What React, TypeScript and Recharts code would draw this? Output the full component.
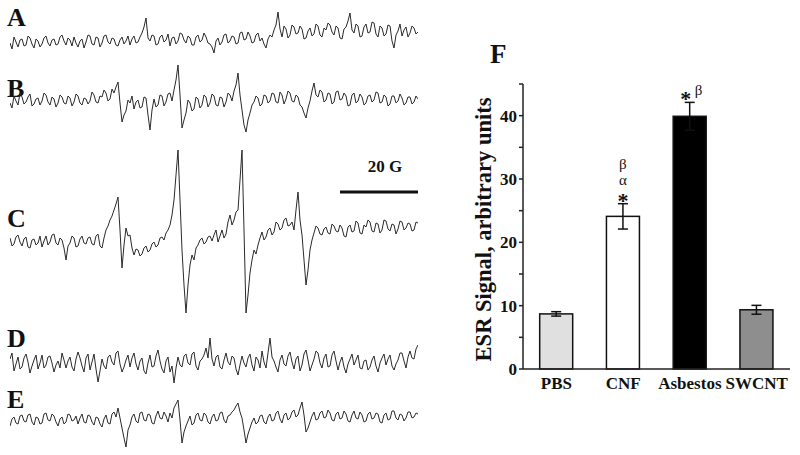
import React from 'react';
import { LineChart, Line, XAxis, YAxis, BarChart, Bar, Label } from 'recharts';

// ESR spectra (relative amplitude, sampled evenly across the field sweep)
const traceA = [
  -8, -14, -2, -7, -12, -5, -4, -11, -10, -1, -3, -9, -13, -4, -6, -12, -9, -3, -1, -8,
  -11, -5, -4, -10, -9, -2, 0, -6, -10, -3, -5, -11, -2, -8, -12, -6, -4, -13, -7, 0,
  -1, -9, -10, -2, -3, -12, -8, -1, 0, -7, -9, -3, -4, -10, -11, -5, -2, -9, -6, -1,
  -10, -4, -1, -8, -7, -2, 2, 8, 17, -3, -6, 0, -1, -10, -9, -2, 0, -7, -5, 1,
  -11, -3, -2, -9, -6, 2, 1, -5, -8, -1, -3, -10, -10, -2, 0, -7, -5, 2, -2, -8,
  -9, -12, -18, -6, -3, -10, -7, 0, 1, -8, -6, -1, -2, -9, -8, 2, 3, -5, -4, 3,
  -1, -8, -7, 0, 2, -6, -3, -9, -13, -4, 0, -2, 5, 10, 23, 6, -2, 9, 6, -3,
  0, 10, 8, 1, 2, 9, 6, -4, -3, 4, 7, -1, 1, 11, 9, 0, -2, 7, 5, 12,
  10, 3, 0, 9, 7, -3, -4, 6, 8, 14, 22, 5, 2, 11, 9, -2, -1, 8, 11, 2,
  3, 13, 12, 1, -2, 9, 7, -1, 1, 10, 9, -6, -13, 0, 4, 11, -1, 5, 8, -2,
  2, 9, 7, 1, 3,
];
const traceB = [
  2, -3, 9, 4, 0, 12, 8, 1, 3, 8, 11, -1, 1, 6, 7, 0, 4, 12, 10, 3,
  0, 8, 6, -2, 2, 10, 8, 2, 1, 9, 7, -1, 3, 11, 9, 2, 0, 7, 6, 1,
  4, 13, 10, 3, 2, 9, 8, 15, 12, 4, 6, 16, 12, 18, 23, 2, -17, -10, -6, 5,
  2, 9, -4, 3, 5, -3, -2, 8, 7, -10, -25, -5, 6, -2, 0, 10, 9, -1, 3, 11,
  12, 4, 15, 25, 40, 10, -23, -15, -8, 5, 2, -6, -4, 8, 6, -3, 0, 10, 8, -2,
  2, 11, 9, 0, -1, 8, 7, -2, 3, 12, 10, 4, 14, 20, 32, 10, -5, -20, -27, -15,
  -8, 0, 3, 9, 7, -1, 1, 10, 9, 2, 4, 12, 11, 3, 2, 13, 10, 1, 6, 14,
  12, 4, 3, 10, 8, 0, -2, -8, -13, -3, 4, 14, 22, 10, 8, 15, 13, 3, 5, 12,
  11, 1, 3, 13, 14, 5, 6, 12, 9, -1, 0, 10, 12, 2, 4, 11, 8, 0, 2, 9,
  10, 3, 5, 13, 12, 2, 3, 10, 8, -1, 1, 9, 9, 2, 4, 11, 7, 0, 2, 8,
  8, 1, 3, 9, 6,
];
const traceC = [
  2, -6, -4, 3, 5, -2, -6, 1, 3, -7, -8, 0, 1, -5, -3, 4, -7, -1, 4, -5,
  -2, 5, 6, -3, -5, 2, 0, -8, -20, -6, -3, 4, 2, -7, -6, 1, 4, -3, -4, 2,
  3, -4, -5, 4, 6, -6, -8, 2, 10, 14, 20, 24, 30, 36, 43, 10, -28, -5, 12, 4,
  5, -8, -15, -9, -10, -16, -14, -8, -6, -12, -10, -4, -2, -7, -5, 2, 3, 0, 7, 10,
  15, 25, 40, 65, 90, 40, -10, -45, -73, -45, -25, -15, -20, -8, -5, 0, 2, -4, -2, 3,
  4, -1, 5, 10, -2, 4, 10, 2, 6, 18, 25, 15, 20, 28, 30, 60, 90, 10, -73, -55,
  -33, -20, -10, -14, -5, 2, 8, 0, 3, 10, 12, 5, 8, 18, 16, 10, 12, 20, 22, 14,
  15, 18, 10, 30, 48, 20, 5, -20, -45, -30, -10, 0, 7, 14, 12, 6, 5, 11, 13, 7,
  6, 16, 14, 9, 8, 15, 12, 4, 3, 13, 15, 8, 9, 19, 17, 7, 6, 15, 13, 20,
  18, 9, 8, 17, 16, 7, 10, 20, 19, 11, 9, 16, 15, 6, 11, 19, 18, 10, 12, 17,
  16, 9, 10, 18, 17,
];
const traceD = [
  4, 10, -8, -1, 6, -6, -4, 5, 9, 1, -10, -3, 3, 8, -6, 0, 8, -5, -2, 6,
  7, 0, -9, -2, 2, -5, 10, 3, -5, 2, 6, -4, -8, 4, 11, 5, -3, -9, 5, 9,
  -7, 1, 9, -6, -19, -8, 4, -3, -6, 6, 8, 1, -2, 10, 12, -1, -9, -4, 3, 8,
  -4, 5, 10, -1, -7, 2, 5, -8, -11, 0, 8, -4, -3, 7, 13, 2, -6, -10, 2, 6,
  -9, -3, -20, -5, 6, -2, -4, 7, 9, 0, -2, 9, 11, -3, -7, 2, 4, 8, 15, 5,
  25, 4, -3, 6, 8, -4, -6, 3, 10, 1, -2, 7, 5, -6, -12, -2, 7, 0, -4, 5,
  9, -2, -8, 6, 3, -5, 12, 1, -5, 10, 25, 6, 2, -4, -9, 3, 8, -1, -3, 7,
  11, 1, -6, 4, 7, -8, -2, 9, 13, 3, -8, -2, 4, 12, 10, 0, -5, 5, 9, -4,
  -3, 8, 12, 2, -7, 1, 6, -4, -10, -1, 4, 9, -2, 3, 8, -5, -6, 2, 3, -7,
  -4, 3, 7, -3, -9, 0, 5, 9, -2, 4, 8, -3, -7, -1, 3, 10, 10, 2, -5, 6,
  12, 5, 4, 14, 18,
];
const traceE = [
  -6, 1, 3, -3, -4, 4, 5, -1, -2, 5, 6, -2, -5, 3, 2, -4, -3, 6, 7, 0,
  -1, 6, 4, -2, -6, 1, 3, -4, -2, 6, 5, -1, 0, 4, -4, 2, 6, -2, -3, 5,
  4, -2, -5, 3, 2, -4, -7, 1, 5, -3, -4, 6, 8, 3, 12, 2, -8, -18, -27, -10,
  -5, 3, 6, -1, -3, 7, 8, 0, -1, 6, 5, -3, -4, 4, 9, 2, 1, 8, 4, -2,
  7, 2, 12, 16, 20, 0, -23, -12, -6, -1, 4, -5, -3, 5, 7, 0, -1, 7, 5, -2,
  -4, 3, 6, -1, 0, 7, 8, 0, -3, 4, 5, 8, 10, 14, 17, 8, 2, -10, -23, -14,
  -8, -2, 2, -4, -2, 4, 5, -2, -4, 3, 6, -1, 0, 7, 9, 1, -3, 5, 7, 0,
  2, 8, 10, 3, 5, 12, 18, 5, -12, -8, -2, 4, 8, 0, 1, 7, 9, 2, 3, 10,
  7, 0, -1, 6, 8, 1, 2, 9, 6, -1, -2, 5, 9, 2, 1, 8, 5, -2, -1, 6,
  8, 1, 2, 7, 6, -2, -3, 5, 7, 0, 1, 9, 9, 2, 0, 6, 5, -1, 2, 8,
  8, 2, 3, 7, 6,
];
const traceLabels = ['A', 'B', 'C', 'D', 'E'];
const scaleBarText = '20 G';

// Panel F: ESR signal
const categories = ['PBS', 'CNF', 'Asbestos', 'SWCNT'];
const signal = [8.7, 24.1, 39.9, 9.35];
const signalErr = [0.35, 2.0, 2.2, 0.7];
const barFills = ['#e0e0e0', '#ffffff', '#000000', '#8e8e8e'];
// significance marks, bottom row first
const significance: string[][] = [[], ['*', 'α', 'β'], ['* β'], []];
const yTicks = [0, 5, 10, 15, 20, 25, 30, 35, 40, 45];
const yTitle = 'ESR Signal, arbitrary units';
const panelF = 'F';

const SERIF = '"Liberation Serif", "Times New Roman", Times, serif';

function Trace({ values, top, height, lo, hi }: { values: number[]; top: number; height: number; lo: number; hi: number }) {
  const data = values.map((v, i) => ({ i, v }));
  return (
    <div style={{ position: 'absolute', left: 10, top, width: 408, height }}>
      <LineChart width={408} height={height} data={data} margin={{ top: 0, right: 0, bottom: 0, left: 0 }}>
        <XAxis dataKey="i" type="number" domain={[0, values.length - 1]} hide />
        <YAxis type="number" domain={[lo, hi]} hide allowDataOverflow />
        <Line dataKey="v" type="linear" stroke="#2a2a2a" strokeWidth={1} dot={false} isAnimationActive={false} />
      </LineChart>
    </div>
  );
}

// Bar with its error bar and significance marks, all derived from the bar geometry.
const BarShape = (props: any) => {
  const { x, y, width, height, index } = props;
  if (x == null || y == null || !isFinite(height)) return null;
  const idx = typeof index === 'number' ? index : categories.indexOf(props.payload?.name);
  const pxPerUnit = height / signal[idx];
  const e = signalErr[idx] * pxPerUnit;
  const cx = x + width / 2;
  const errTop = y - e;
  const errBot = y + e;
  const rows = significance[idx] || [];
  const marks: any[] = [];
  rows.forEach((row, k) => {
    const tokens = row.split(' ');
    tokens.forEach((tok, j) => {
      const off = tokens.length > 1 ? (j - (tokens.length - 1) / 2) * 13 + 2.5 : 0;
      const isStar = tok === '*';
      const base = isStar ? errTop + 4 : k === 0 ? errTop - 6 - 1 : errTop - 3 - 16 * k;
      marks.push(
        <text
          key={`${k}-${j}`}
          x={cx + off}
          y={base}
          textAnchor="middle"
          fontFamily={SERIF}
          fontSize={isStar ? 22 : 15}
          fontWeight={isStar ? 'bold' : 'normal'}
          fill="#111"
        >
          {tok}
        </text>
      );
    });
  });
  return (
    <g>
      <rect x={x} y={y} width={width} height={height} fill={barFills[idx]} stroke="#111" strokeWidth={1.5} />
      <line x1={cx} x2={cx} y1={errTop} y2={errBot} stroke="#111" strokeWidth={1.5} />
      <line x1={cx - 5} x2={cx + 5} y1={errTop} y2={errTop} stroke="#111" strokeWidth={1.5} />
      <line x1={cx - 5} x2={cx + 5} y1={errBot} y2={errBot} stroke="#111" strokeWidth={1.5} />
      {marks}
    </g>
  );
};

export default function App() {
  const barData = categories.map((c, i) => ({ name: c, value: signal[i], err: signalErr[i] }));
  const labelBaselines = [26, 97, 227, 347, 408];
  const tickStyle = { fill: '#111', fontSize: 17, fontWeight: 'bold', fontFamily: SERIF };
  return (
    <div style={{ position: 'absolute', left: 0, top: 0, width: 800, height: 455, background: '#fff', overflow: 'hidden' }}>
      <svg width={800} height={455} style={{ position: 'absolute', left: 0, top: 0 }}>
        {traceLabels.map((t, i) => (
          <text key={t} x={7} y={labelBaselines[i]} fontFamily={SERIF} fontWeight="bold" fontSize={26} fill="#111">
            {t}
          </text>
        ))}
        <text x={385} y={172} textAnchor="middle" fontFamily={SERIF} fontWeight="bold" fontSize={17} fill="#111">
          {scaleBarText}
        </text>
        <line x1={340} x2={418} y1={192} y2={192} stroke="#111" strokeWidth={3} />
        <text x={490} y={63} fontFamily={SERIF} fontWeight="bold" fontSize={27} fill="#111">
          {panelF}
        </text>
      </svg>
      <Trace values={traceA} top={5} height={60} lo={-30} hi={30} />
      <Trace values={traceB} top={60} height={85} lo={-40} hi={45} />
      <Trace values={traceC} top={140} height={180} lo={-80} hi={100} />
      <Trace values={traceD} top={326} height={70} lo={-33} hi={37} />
      <Trace values={traceE} top={390} height={65} lo={-35} hi={30} />
      <div style={{ position: 'absolute', left: 400, top: 40, width: 400, height: 370 }}>
        <BarChart
          width={400}
          height={370}
          data={barData}
          margin={{ top: 44, right: 10, bottom: 11, left: 63 }}
          barCategoryGap="25%"
        >
          <XAxis
            dataKey="name"
            interval={0}
            tickLine={false}
            axisLine={{ stroke: '#222', strokeWidth: 1.5 }}
            tick={tickStyle}
            height={30}
          />
          <YAxis
            type="number"
            domain={[0, 45]}
            ticks={yTicks}
            interval={0}
            width={60}
            tickSize={4}
            tickMargin={2}
            tickLine={{ stroke: '#222', strokeWidth: 1.5 }}
            axisLine={{ stroke: '#222', strokeWidth: 1.5 }}
            tick={tickStyle}
            tickFormatter={(v: number) => (v % 10 === 0 ? String(v) : '')}
          >
            <Label
              content={(p: any) => {
                const vb = p.viewBox;
                const cx = vb.x + 20;
                const cy = vb.y + vb.height / 2 + 3;
                return (
                  <text
                    x={cx}
                    y={cy}
                    transform={`rotate(-90 ${cx} ${cy})`}
                    textAnchor="middle"
                    dominantBaseline="central"
                    fontFamily={SERIF}
                    fontWeight="bold"
                    fontSize={22.5}
                    fill="#111"
                  >
                    {yTitle}
                  </text>
                );
              }}
            />
          </YAxis>
          <Bar dataKey="value" isAnimationActive={false} shape={BarShape} />
        </BarChart>
      </div>
    </div>
  );
}
